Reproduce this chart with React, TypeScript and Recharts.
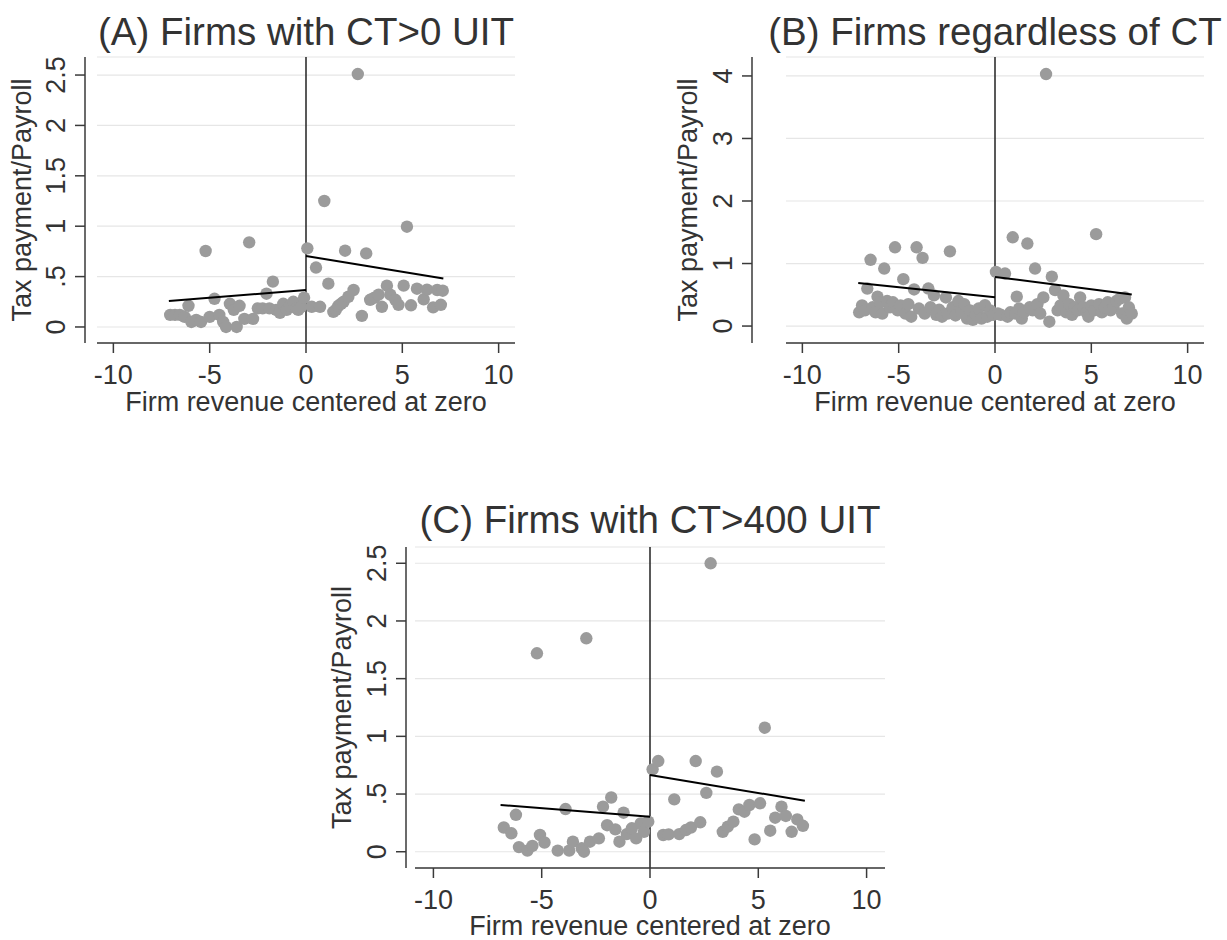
import React from 'react';
import { ScatterChart, Scatter, XAxis, YAxis, CartesianGrid, ReferenceLine } from 'recharts';

// ---------- shared labels / ticks ----------
const titles = ['(A) Firms with CT>0 UIT', '(B) Firms regardless of CT', '(C) Firms with CT>400 UIT'];
const xLabel = 'Firm revenue centered at zero';
const yLabel = 'Tax payment/Payroll';
const xTicks = [-10, -5, 0, 5, 10];
const xDomain: [number, number] = [-10.85, 10.85];

const yTicksA = [0, 0.5, 1, 1.5, 2, 2.5];
const yTickLabelsA = ['0', '.5', '1', '1.5', '2', '2.5'];
const yTicksB = [0, 1, 2, 3, 4];
const yTickLabelsB = ['0', '1', '2', '3', '4'];
const yTicksC = [0, 0.5, 1, 1.5, 2, 2.5];
const yTickLabelsC = ['0', '.5', '1', '1.5', '2', '2.5'];

// ---------- Panel A data ----------
const aX = [-7.05, -6.8, -6.55, -6.3, -6.1, -5.95, -5.7, -5.45, -5.21, -5.0, -4.75, -4.5, -4.3, -4.15, -3.95, -3.75, -3.6, -3.45, -3.2, -2.95, -2.75, -2.5, -2.25, -2.05, -1.9, -1.72, -1.55, -1.35, -1.18, -1.0, -0.83, -0.66, -0.5, -0.4, -0.25, -0.1,
  0.07, 0.3, 0.52, 0.73, 0.95, 1.16, 1.42, 1.55, 1.68, 1.82, 1.95, 2.03, 2.2, 2.47, 2.69, 2.9, 3.125, 3.33, 3.55, 3.77, 3.94, 4.2, 4.375, 4.64, 4.8, 5.07, 5.24, 5.45, 5.76, 6.11, 6.28, 6.6, 6.81, 7.0, 7.1];
const aY = [0.12, 0.12, 0.12, 0.10, 0.21, 0.05, 0.07, 0.05, 0.754, 0.10, 0.28, 0.12, 0.05, 0.0, 0.23, 0.17, 0.0, 0.21, 0.08, 0.84, 0.08, 0.185, 0.185, 0.33, 0.185, 0.45, 0.17, 0.14, 0.23, 0.17, 0.21, 0.25, 0.185, 0.17, 0.20, 0.29,
  0.78, 0.20, 0.59, 0.20, 1.25, 0.43, 0.15, 0.17, 0.21, 0.23, 0.25, 0.757, 0.30, 0.367, 2.51, 0.11, 0.73, 0.27, 0.29, 0.32, 0.20, 0.41, 0.32, 0.27, 0.22, 0.41, 0.995, 0.215, 0.38, 0.275, 0.37, 0.195, 0.367, 0.22, 0.36];
const aFitLeftX = [-7.12, 0];
const aFitLeftY = [0.258, 0.367];
const aFitRightX = [0, 7.13];
const aFitRightY = [0.704, 0.48];

// ---------- Panel B data ----------
const bX = [-7.05, -6.9, -6.75, -6.63, -6.46, -6.35, -6.2, -6.1, -5.95, -5.85, -5.75, -5.6, -5.45, -5.3, -5.19, -5.05, -4.9, -4.76, -4.65, -4.5, -4.35, -4.2, -4.07, -3.95, -3.76, -3.65, -3.46, -3.35, -3.17, -3.05, -2.9, -2.75, -2.55, -2.45, -2.34, -2.2, -2.05, -1.9, -1.75, -1.6, -1.45, -1.3, -1.15, -1.0, -0.85, -0.7, -0.52, -0.4, -0.25, -0.1,
  0.05, 0.15, 0.3, 0.52, 0.65, 0.8, 0.92, 1.05, 1.13, 1.25, 1.39, 1.5, 1.68, 1.8, 1.95, 2.08, 2.2, 2.35, 2.51, 2.65, 2.82, 2.95, 3.12, 3.25, 3.4, 3.55, 3.7, 3.85, 4.0, 4.15, 4.3, 4.42, 4.6, 4.75, 4.85, 5.0, 5.15, 5.25, 5.4, 5.55, 5.7, 5.85, 6.0, 6.15, 6.3, 6.49, 6.6, 6.75, 6.84, 6.95, 7.1];
const bY = [0.22, 0.33, 0.25, 0.60, 1.06, 0.30, 0.22, 0.47, 0.38, 0.20, 0.92, 0.40, 0.30, 0.38, 1.26, 0.25, 0.33, 0.75, 0.20, 0.35, 0.15, 0.585, 1.26, 0.28, 1.09, 0.20, 0.60, 0.30, 0.49, 0.18, 0.26, 0.15, 0.457, 0.20, 1.195, 0.30, 0.17, 0.40, 0.22, 0.35, 0.12, 0.25, 0.10, 0.18, 0.28, 0.12, 0.335, 0.15, 0.25, 0.18,
  0.865, 0.20, 0.18, 0.84, 0.15, 0.22, 1.42, 0.20, 0.47, 0.28, 0.12, 0.22, 1.32, 0.30, 0.25, 0.92, 0.35, 0.20, 0.457, 4.03, 0.07, 0.79, 0.574, 0.25, 0.33, 0.49, 0.22, 0.35, 0.18, 0.30, 0.25, 0.457, 0.30, 0.22, 0.15, 0.33, 0.25, 1.47, 0.35, 0.22, 0.30, 0.38, 0.25, 0.30, 0.40, 0.44, 0.20, 0.457, 0.12, 0.30, 0.20];
const bFitLeftX = [-7.1, 0];
const bFitLeftY = [0.69, 0.46];
const bFitRightX = [0, 7.1];
const bFitRightY = [0.786, 0.505];

// ---------- Panel C data ----------
const cX = [-6.75, -6.4, -6.19, -6.05, -5.66, -5.43, -5.22, -5.08, -4.87, -4.26, -3.9, -3.73, -3.56, -3.15, -3.05, -2.94, -2.77, -2.36, -2.17, -1.98, -1.79, -1.6, -1.41, -1.22, -1.07, -0.84, -0.64, -0.43, -0.28, -0.08,
  0.12, 0.38, 0.61, 0.86, 1.12, 1.35, 1.66, 1.89, 2.11, 2.32, 2.6, 2.8, 3.09, 3.36, 3.59, 3.85, 4.1, 4.36, 4.59, 4.83, 5.08, 5.3, 5.55, 5.78, 6.07, 6.27, 6.54, 6.8, 7.06];
const cY = [0.21, 0.16, 0.32, 0.04, 0.01, 0.05, 1.72, 0.145, 0.08, 0.01, 0.37, 0.01, 0.087, 0.03, 0.0, 1.85, 0.087, 0.116, 0.39, 0.23, 0.47, 0.194, 0.087, 0.338, 0.153, 0.203, 0.116, 0.246, 0.173, 0.26,
  0.714, 0.786, 0.145, 0.15, 0.454, 0.153, 0.188, 0.21, 0.786, 0.255, 0.51, 2.5, 0.694, 0.173, 0.217, 0.26, 0.367, 0.347, 0.405, 0.107, 0.42, 1.075, 0.182, 0.295, 0.39, 0.31, 0.173, 0.28, 0.225];
const cFitLeftX = [-6.9, 0];
const cFitLeftY = [0.405, 0.303];
const cFitRightX = [0, 7.15];
const cFitRightY = [0.665, 0.442];

// ---------- styling ----------
const FONT = '"Liberation Sans", Arial, Helvetica, sans-serif';
const TEXT = '#333333';
const AXIS = '#3a3a3a';
const DOT = '#9b9b9b';
const DOT_R = 6.2;

const zip = (xs: number[], ys: number[]) => xs.map((x, i) => ({ x, y: ys[i] }));

type PanelProps = {
  left: number; top: number; width: number; height: number;
  axisX: number; dataLeft: number; plotRight: number; plotTop: number; plotBottom: number;
  yDomain: [number, number]; yTicks: number[]; yLabels: string[];
  points: { x: number; y: number }[];
  fitL: { x: number; y: number }[];
  fitR: { x: number; y: number }[];
};

function Panel(p: PanelProps) {
  const gap = p.dataLeft - p.axisX;
  const yAxisWidth = p.axisX - p.left;
  const xAxisHeight = p.top + p.height - p.plotBottom;
  const fmt = (v: number) => {
    const i = p.yTicks.indexOf(v);
    return i >= 0 ? p.yLabels[i] : String(v);
  };
  const renderYTick = (props: any) => {
    const { x, y, payload } = props;
    const tx = x - 10;
    return (
      <text x={tx} y={y} transform={`rotate(-90 ${tx} ${y})`} textAnchor="middle"
        fontSize={27} fill={TEXT} fontFamily={FONT}>{fmt(payload.value)}</text>
    );
  };
  const renderDot = (props: any) => <circle cx={props.cx} cy={props.cy} r={DOT_R} fill={DOT} />;
  const noDot = () => <g />;
  return (
    <div style={{ position: 'absolute', left: p.left, top: p.top, width: p.width, height: p.height }}>
      <ScatterChart width={p.width} height={p.height}
        margin={{ top: p.plotTop - p.top, right: p.left + p.width - p.plotRight, left: 0, bottom: 0 }}>
        <CartesianGrid vertical={false} stroke="#e6e6e6" strokeWidth={1.2} strokeDasharray={`0 ${gap} 4000`} />
        <XAxis type="number" dataKey="x" domain={xDomain} ticks={xTicks} interval={0} allowDataOverflow
          height={xAxisHeight} padding={{ left: gap, right: 0 }} tickSize={10} tickMargin={12}
          tick={{ fontSize: 27, fill: TEXT, fontFamily: FONT }}
          axisLine={{ stroke: AXIS, strokeWidth: 1.5, strokeDasharray: `0 ${gap} 4000` }}
          tickLine={{ stroke: AXIS, strokeWidth: 1.5 }} />
        <YAxis type="number" dataKey="y" domain={p.yDomain} ticks={p.yTicks} interval={0} allowDataOverflow
          width={yAxisWidth} tickSize={10} tickMargin={0} tick={renderYTick}
          axisLine={{ stroke: AXIS, strokeWidth: 1.5 }} tickLine={{ stroke: AXIS, strokeWidth: 1.5 }} />
        <Scatter data={p.points} fill={DOT} shape={renderDot} isAnimationActive={false} />
        <ReferenceLine x={0} stroke="#222222" strokeWidth={1.5} />
        <Scatter data={p.fitL} line={{ stroke: '#000000', strokeWidth: 2 }} shape={noDot} isAnimationActive={false} />
        <Scatter data={p.fitR} line={{ stroke: '#000000', strokeWidth: 2 }} shape={noDot} isAnimationActive={false} />
      </ScatterChart>
    </div>
  );
}

export default function App() {
  const textCommon = { fontFamily: FONT, fill: TEXT } as const;
  return (
    <div style={{ position: 'absolute', left: 0, top: 0, width: 1227, height: 940, background: '#ffffff', overflow: 'hidden' }}>
      <Panel left={0} top={0} width={560} height={440}
        axisX={85} dataLeft={97} plotRight={515} plotTop={57} plotBottom={343}
        yDomain={[-0.159, 2.679]} yTicks={yTicksA} yLabels={yTickLabelsA}
        points={zip(aX, aY)} fitL={zip(aFitLeftX, aFitLeftY)} fitR={zip(aFitRightX, aFitRightY)} />
      <Panel left={640} top={0} width={587} height={440}
        axisX={752} dataLeft={786} plotRight={1204} plotTop={57} plotBottom={343}
        yDomain={[-0.271, 4.303]} yTicks={yTicksB} yLabels={yTickLabelsB}
        points={zip(bX, bY)} fitL={zip(bFitLeftX, bFitLeftY)} fitR={zip(bFitRightX, bFitRightY)} />
      <Panel left={300} top={490} width={620} height={450}
        axisX={406} dataLeft={415} plotRight={885} plotTop={547} plotBottom={868}
        yDomain={[-0.141, 2.641]} yTicks={yTicksC} yLabels={yTickLabelsC}
        points={zip(cX, cY)} fitL={zip(cFitLeftX, cFitLeftY)} fitR={zip(cFitRightX, cFitRightY)} />
      <svg width={1227} height={940} style={{ position: 'absolute', left: 0, top: 0, pointerEvents: 'none' }}>
        <text x={306} y={45} textAnchor="middle" fontSize={38.5} {...textCommon}>{titles[0]}</text>
        <text x={995} y={45} textAnchor="middle" fontSize={38.5} {...textCommon}>{titles[1]}</text>
        <text x={650} y={533} textAnchor="middle" fontSize={38.5} {...textCommon}>{titles[2]}</text>
        <text x={306} y={411} textAnchor="middle" fontSize={27} {...textCommon}>{xLabel}</text>
        <text x={995} y={411} textAnchor="middle" fontSize={27} {...textCommon}>{xLabel}</text>
        <text x={650} y={935} textAnchor="middle" fontSize={27} {...textCommon}>{xLabel}</text>
        <text x={31} y={200} transform="rotate(-90 31 200)" textAnchor="middle" fontSize={27} {...textCommon}>{yLabel}</text>
        <text x={697} y={200} transform="rotate(-90 697 200)" textAnchor="middle" fontSize={27} {...textCommon}>{yLabel}</text>
        <text x={351} y={707.5} transform="rotate(-90 351 707.5)" textAnchor="middle" fontSize={27} {...textCommon}>{yLabel}</text>
      </svg>
    </div>
  );
}
